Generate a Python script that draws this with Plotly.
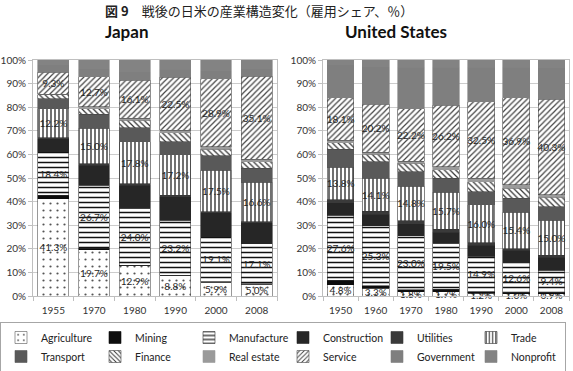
import plotly.graph_objects as go

FONT = "Lato, Roboto, Arial, sans-serif"

jp_years = ["1955", "1970", "1980", "1990", "2000", "2008"]
us_years = ["1950", "1960", "1970", "1980", "1990", "2000", "2008"]

sectors = ["Agriculture", "Mining", "Manufacture", "Construction", "Utilities", "Trade",
           "Transport", "Finance", "Real estate", "Service", "Government", "Nonprofit"]

# Japan employment share (%), bottom to top
jp_agriculture = [41.3, 19.7, 12.9, 8.8, 5.9, 5.0]
jp_mining = [1.4, 0.5, 0.2, 0.1, 0.2, 0.1]
jp_manufacture = [18.4, 26.7, 24.0, 23.2, 19.1, 17.1]
jp_construction = [5.5, 8.6, 9.9, 10.0, 10.0, 8.8]
jp_utilities = [0.5, 0.6, 0.6, 0.6, 0.5, 0.5]
jp_trade = [12.2, 15.0, 17.8, 17.2, 17.5, 16.6]
jp_transport = [4.2, 6.0, 5.8, 5.4, 6.2, 6.0]
jp_finance = [1.7, 2.3, 3.3, 3.9, 2.8, 2.8]
jp_real_estate = [0.3, 0.8, 0.8, 1.0, 1.0, 1.1]
jp_service = [9.3, 12.7, 16.1, 22.5, 28.9, 35.1]
jp_government = [3.2, 3.5, 3.6, 3.3, 3.4, 3.2]
jp_nonprofit = [2.0, 3.6, 5.0, 4.0, 4.5, 3.7]

# United States employment share (%), bottom to top
us_agriculture = [4.8, 3.3, 1.8, 1.7, 1.2, 1.0, 0.9]
us_mining = [1.9, 1.1, 0.8, 1.1, 0.7, 0.5, 0.6]
us_manufacture = [27.6, 25.3, 23.0, 19.5, 14.9, 12.6, 9.4]
us_construction = [5.2, 5.0, 5.0, 4.8, 4.8, 5.2, 5.6]
us_utilities = [1.3, 1.2, 1.2, 1.2, 1.0, 0.8, 0.7]
us_trade = [13.8, 14.1, 14.8, 15.7, 16.0, 15.4, 15.0]
us_transport = [7.6, 6.8, 6.1, 6.0, 5.6, 6.0, 5.7]
us_finance = [2.8, 3.3, 3.6, 3.5, 4.2, 4.2, 3.9]
us_real_estate = [0.9, 0.9, 0.9, 1.2, 1.5, 1.4, 1.2]
us_service = [18.1, 20.2, 22.2, 26.2, 32.5, 36.9, 40.3]
us_government = [14.0, 16.0, 17.6, 16.0, 14.5, 13.0, 13.5]
us_nonprofit = [2.0, 2.8, 3.0, 3.1, 3.1, 3.0, 3.2]

jp_series = [jp_agriculture, jp_mining, jp_manufacture, jp_construction, jp_utilities, jp_trade,
             jp_transport, jp_finance, jp_real_estate, jp_service, jp_government, jp_nonprofit]
us_series = [us_agriculture, us_mining, us_manufacture, us_construction, us_utilities, us_trade,
             us_transport, us_finance, us_real_estate, us_service, us_government, us_nonprofit]

labelled = {"Agriculture", "Manufacture", "Trade", "Service"}

styles = {
    "Agriculture": dict(color="white", line="#555555", pattern=dict(shape=".", fgcolor="#555555", bgcolor="white", size=7, solidity=0.08)),
    "Mining": dict(color="#0d0d0d", line="#0d0d0d"),
    "Manufacture": dict(color="white", line="#333333", pattern=dict(shape="-", fgcolor="#111111", bgcolor="white", size=5, solidity=0.3)),
    "Construction": dict(color="#262626", line="#262626"),
    "Utilities": dict(color="#3a3a3a", line="#3a3a3a"),
    "Trade": dict(color="white", line="#333333", pattern=dict(shape="|", fgcolor="#111111", bgcolor="white", size=4, solidity=0.3)),
    "Transport": dict(color="#595959", line="#595959"),
    "Finance": dict(color="white", line="#444444", pattern=dict(shape="\\", fgcolor="#333333", bgcolor="white", size=4, solidity=0.3)),
    "Real estate": dict(color="#9a9a9a", line="#9a9a9a"),
    "Service": dict(color="white", line="#444444", pattern=dict(shape="/", fgcolor="#444444", bgcolor="white", size=4, solidity=0.3)),
    "Government": dict(color="#7f7f7f", line="#7f7f7f"),
    "Nonprofit": dict(color="#838383", line="#838383"),
}

fig = go.Figure()

for country, years, series, xa, ya, show in [("jp", jp_years, jp_series, "x", "y", True),
                                               ("us", us_years, us_series, "x2", "y2", False)]:
    for name, vals in zip(sectors, series):
        st = styles[name]
        marker = dict(color=st["color"], line=dict(color=st["line"], width=0.6))
        if "pattern" in st:
            marker["pattern"] = st["pattern"]
        text = [f"{v:.1f}%" for v in vals] if name in labelled else None
        fig.add_trace(go.Bar(
            x=years, y=vals, name=name, legendgroup=name, showlegend=show,
            xaxis=xa, yaxis=ya, marker=marker,
            text=text, textposition="inside" if text else "none",
            insidetextanchor="middle", textangle=0, cliponaxis=False,
            textfont=dict(family=FONT, size=10, color="#262626"),
            hoverinfo="x+y+name",
        ))

axis_common = dict(showline=True, mirror=True, linecolor="#bfbfbf", linewidth=1,
                   automargin=False, tickfont=dict(family=FONT, size=10, color="#333333"))

xcommon = dict(type="category", ticks="outside", tickson="boundaries", ticklen=4,
               tickcolor="#bfbfbf", showgrid=False, ticklabelstandoff=5, **axis_common)
ycommon = dict(range=[0, 100], dtick=10, ticksuffix="%", showgrid=True, gridcolor="#cccccc",
               gridwidth=1, ticks="outside", ticklen=4, tickcolor="#bfbfbf", zeroline=False,
               **axis_common)

ydom = [(371 - 296) / 371, (371 - 60) / 371]

fig.update_layout(
    template="none",
    width=573, height=371,
    margin=dict(l=0, r=0, t=0, b=0, autoexpand=False),
    paper_bgcolor="white", plot_bgcolor="white",
    barmode="stack", bargap=0.24,
    font=dict(family=FONT, size=10, color="#333333"),
    uniformtext=dict(mode="show", minsize=10),
    xaxis=dict(domain=[33 / 573, 277 / 573], anchor="y", **xcommon),
    yaxis=dict(domain=ydom, anchor="x", **ycommon),
    xaxis2=dict(domain=[323 / 573, 569 / 573], anchor="y2", **xcommon),
    yaxis2=dict(domain=ydom, anchor="x2", **ycommon),
    legend=dict(orientation="h", x=0.0, xanchor="left", y=1 - 322 / 371, yanchor="top",
                bordercolor="#a6a6a6", borderwidth=1, bgcolor="white",
                font=dict(family=FONT, size=10.5, color="#222222"),
                entrywidth=49, entrywidthmode="pixels", itemwidth=30, traceorder="normal",
                tracegroupgap=0),
    showlegend=True,
    annotations=[
        dict(text="<b>図 9</b>　戦後の日米の産業構造変化（雇用シェア、％）", x=259 / 573, y=1 - 11 / 371,
             xref="paper", yref="paper", showarrow=False, xanchor="center", yanchor="middle",
             font=dict(family="Noto Sans CJK JP", size=13, color="#222222")),
        dict(text="<b>Japan</b>", x=127 / 573, y=1 - 32 / 371, xref="paper", yref="paper",
             showarrow=False, xanchor="center", yanchor="middle",
             font=dict(family=FONT, size=17, color="#111111")),
        dict(text="<b>United States</b>", x=396 / 573, y=1 - 32 / 371, xref="paper", yref="paper",
             showarrow=False, xanchor="center", yanchor="middle",
             font=dict(family=FONT, size=17, color="#111111")),
    ],
)

fig.write_html("out.html")
